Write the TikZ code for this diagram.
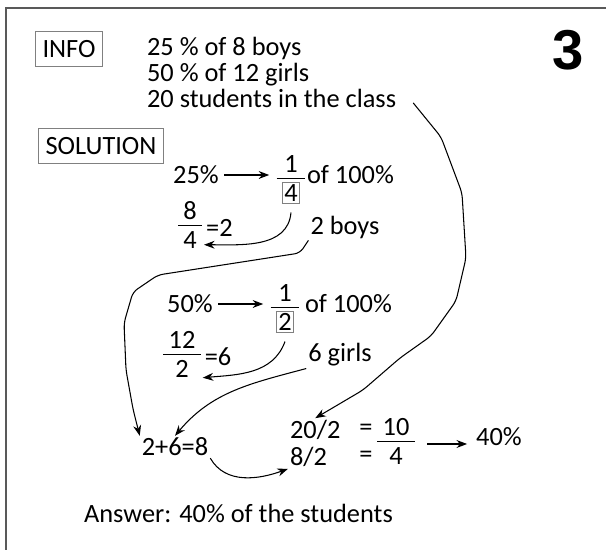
\documentclass[tikz,border=0pt]{standalone}
\usepackage{fontspec}
\setmainfont{Carlito}
\newfontfamily\numfont{Liberation Sans}
\usepackage{tikz}
\usetikzlibrary{arrows.meta}

\setlength{\fboxsep}{1pt}
\newcommand{\hfrac}[2]{\begin{tabular}{@{\hspace{3pt}}c@{\hspace{3pt}}}#1\\[-2pt]\hline\rule{0pt}{13pt}#2\end{tabular}}
\newcommand{\bx}[1]{\fcolorbox{gray}{white}{#1}}

\begin{document}
\begin{tikzpicture}[x=0.02cm,y=-0.02cm,>={Stealth[length=6pt,width=4.5pt]},
  every node/.style={font=\fontsize{15}{17}\selectfont,inner sep=1pt},
  tag/.style={draw=gray,line width=0.6pt,inner xsep=4pt,inner ysep=5pt},
  link/.style={->,line width=0.6pt}]
\useasboundingbox (0,0) rectangle (606,550);
% frame
\draw[gray!70!black,line width=1.3pt] (606,8) -- (6,8) -- (6,550);
\node[font=\numfont\bfseries\fontsize{32}{32}\selectfont] (num) at (568,50) {3};
% info
\node[tag] (info) at (69,49) {INFO};
\foreach \txt [count=\i] in {25 \% of 8 boys,50 \% of 12 girls,20 students in the class}
  \node[anchor=base west] (fact\i) at (145,30+26*\i) {\txt};
% solution
\node[tag] (sol) at (101,146) {SOLUTION};
% boys
\node (p25) at (196,175) {25\%};
\node (q4) at (291,181) {\hfrac{1}{\bx{4}}};
\draw[link,shorten <=2pt,shorten >=3pt] (p25.east) -- (p25.east -| q4.west);
\node[anchor=west] (of1) at (305,175) {of 100\%};
\node (d8) at (190,228) {\hfrac{8}{4}};
\node[anchor=west] (eq2) at (d8.east) {=2};
\node (boys) at (345,227) {2 boys};
\draw[link] (q4.south) to[out=-95,in=0] (d8.-50);
% girls
\node (p50) at (190,304) {50\%};
\node (q2) at (285,310) {\hfrac{1}{\bx{2}}};
\draw[link,shorten <=2pt,shorten >=3pt] (p50.east) -- (p50.east -| q2.west);
\node[anchor=west] (of2) at (303,304) {of 100\%};
\node (d12) at (182,357) {\hfrac{12}{2}};
\node[anchor=west] (eq6) at (d12.east) {=6};
\node (girls) at (340,355) {6 girls};
\draw[link] (q2.south) to[out=-110,in=5] (d12.-45);
% class
\node (sum) at (175,447) {2+6=8};
\node[anchor=west] (a1) at (288,430) {20/2};
\node[anchor=west] (a2) at (288,457) {8/2};
\node (e1) at (366,430) {=};
\node (e2) at (366,457) {=};
\node (q10) at (396,444) {\hfrac{10}{4}};
\node (res) at (499,437) {40\%};
\draw[link,shorten <=6pt,shorten >=4pt] (q10.east) -- (q10.east -| res.west);
\draw[link,rounded corners=3pt] (boys.south west) -- (300,253) -- (158,275) -- (133,292)
  -- (124,323) -- (126,370) -- (133,409) -- (sum.north west);
\draw[link] (girls.south west) to[out=195,in=50] (sum.north);
\draw[link,rounded corners=3pt] ([shift={(15,4)}]fact3.east) -- (441,137) -- (462,193)
  -- (466,258) -- (456,301) -- (431,336) -- (400,358) -- (363,390) -- (a1.north);
\draw[link] (sum.south east) to[out=-60,in=200] (a2.south west);
% answer
\node[anchor=west] (ans) at (82,513) {Answer: 40\% of the students};
\end{tikzpicture}
\end{document}
